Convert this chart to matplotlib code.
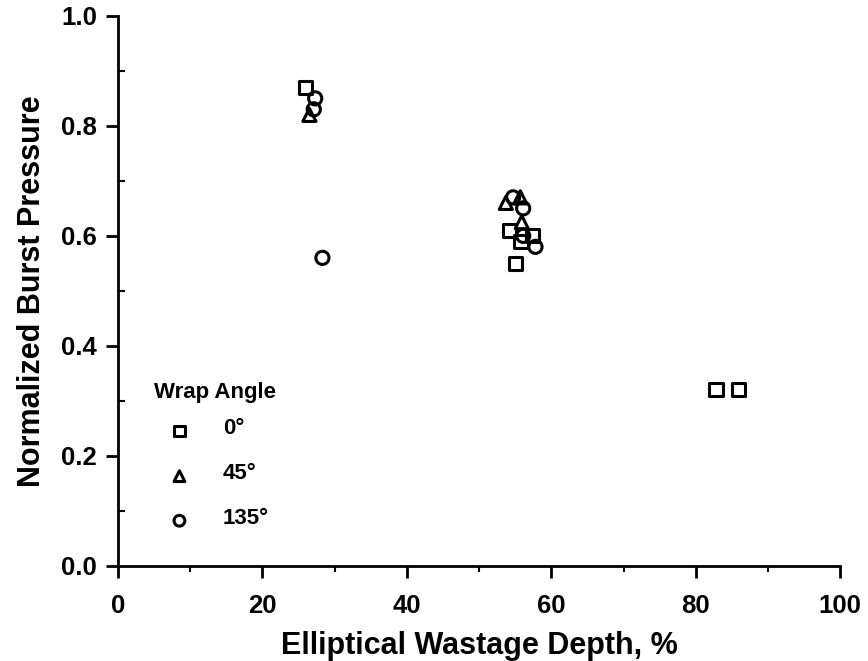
import numpy as np
import matplotlib
matplotlib.use("Agg")
import matplotlib.pyplot as plt
from matplotlib.ticker import MultipleLocator

plt.rcParams['font.family'] = ['Liberation Sans', 'DejaVu Sans']

# wrap angle 0 deg
x0 = [26.0, 54.2, 55.0, 55.8, 57.4, 82.8, 85.9]
y0 = [0.87, 0.61, 0.55, 0.59, 0.60, 0.32, 0.32]
# wrap angle 45 deg
x45 = [26.5, 53.7, 55.7, 55.9]
y45 = [0.82, 0.66, 0.67, 0.625]
# wrap angle 135 deg
x135 = [27.3, 27.1, 28.3, 54.7, 56.1, 56.1, 57.8]
y135 = [0.85, 0.83, 0.56, 0.67, 0.65, 0.60, 0.58]

fig = plt.figure(figsize=(8.68, 6.61), dpi=100)
ax = fig.add_axes([0.136, 0.144, 0.832, 0.832])

mk = dict(facecolor='none', edgecolor='black', linewidths=2.2, s=90, zorder=3)
ax.scatter(x0, y0, marker='s', **mk)
ax.scatter(x45, y45, marker='^', **mk)
ax.scatter(x135, y135, marker='o', **mk)

ax.set_xlim(0, 100)
ax.set_ylim(0, 1.0)
ax.xaxis.set_major_locator(MultipleLocator(20))
ax.xaxis.set_minor_locator(MultipleLocator(10))
ax.yaxis.set_major_locator(MultipleLocator(0.2))
ax.yaxis.set_minor_locator(MultipleLocator(0.1))
ax.yaxis.set_major_formatter(plt.FuncFormatter(lambda v, p: f"{v:.1f}"))

for s in ['top', 'right']:
    ax.spines[s].set_visible(False)
for s in ['left', 'bottom']:
    ax.spines[s].set_linewidth(2)

ax.tick_params(which='major', direction='out', length=8.6, width=2,
               labelsize=18.5, pad=6.4)
ax.tick_params(axis='x', which='major', pad=12)
ax.tick_params(axis='y', which='minor', direction='in', length=5, width=1.5)
ax.tick_params(axis='x', which='minor', direction='out', length=4.5, width=1.5)
for lab in ax.get_xticklabels() + ax.get_yticklabels():
    lab.set_fontweight('bold')

ax.set_xlabel("Elliptical Wastage Depth, %", fontsize=22, fontweight='bold',
              labelpad=9)
ax.set_ylabel("Normalized Burst Pressure", fontsize=22, fontweight='bold',
              labelpad=10)

# legend drawn as text in data coords
ax.text(5.0, 0.315, "Wrap Angle", fontsize=16, fontweight='bold', va='center')
leg_y = [0.245, 0.163, 0.082]
leg_m = ['s', '^', 'o']
leg_t = ["0°", "45°", "135°"]
for yy, m, t in zip(leg_y, leg_m, leg_t):
    ax.scatter([8.5], [yy], marker=m, facecolor='none', edgecolor='black',
               linewidths=2.2, s=60, clip_on=False)
    ax.text(14.5, yy + 0.004, t, fontsize=16, fontweight='bold', va='center')

fig.savefig("out.png", dpi=100)
